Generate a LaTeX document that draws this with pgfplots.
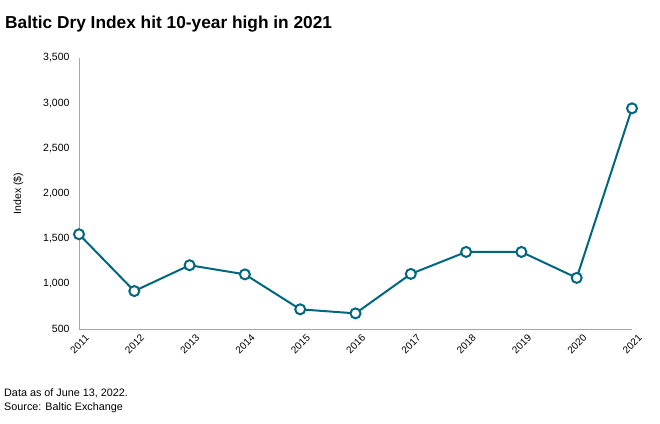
\documentclass[border=0pt]{standalone}
\usepackage{pgfplots}
\pgfplotsset{compat=1.18}
\usepackage{fontspec}
\setmainfont{Liberation Sans}
\definecolor{lineteal}{HTML}{00677F}
\definecolor{axgray}{HTML}{A6A6A6}
\begin{document}
\begin{tikzpicture}
\path (0pt,0pt) rectangle (660pt,-423pt);
\node[anchor=base west,inner sep=0pt,font=\bfseries\fontsize{17.3}{19}\selectfont] at (5pt,-28pt) {Baltic Dry Index hit 10-year high in 2021};
\begin{axis}[
  at={(79pt,-329pt)}, anchor=south west,
  scale only axis, width=553pt, height=271pt,
  xmin=2011, xmax=2021, ymin=500, ymax=3500,
  xtick={2011,...,2021}, ytick={500,1000,...,3500},
  axis x line*=bottom, axis y line*=left,
  axis line style={axgray, line width=0.8pt},
  major tick length=0pt,
  /pgf/number format/assume math mode=true,
  x tick label style={/pgf/number format/1000 sep={}, rotate=45, anchor=north east, font=\fontsize{10}{12}\selectfont, xshift=4pt, yshift=-4pt},
  y tick label style={/pgf/number format/1000 sep={,}, font=\fontsize{10.5}{12}\selectfont, xshift=-6pt},
  ylabel={Index (\$)}, ylabel style={font=\fontsize{10.5}{12}\selectfont, yshift=13pt},
  clip=false,
]
\addplot[lineteal, line width=2pt, mark=*, mark size=5pt, mark options={fill=white, draw=lineteal, line width=2pt}]
coordinates {(2011,1549) (2012,920) (2013,1206) (2014,1105) (2015,718) (2016,673) (2017,1110) (2018,1353) (2019,1353) (2020,1066) (2021,2943)};
\end{axis}
\node[anchor=base west,inner sep=0pt,font=\fontsize{10.8}{12}\selectfont] at (4pt,-396pt) {Data as of June 13, 2022.};
\node[anchor=base west,inner sep=0pt,font=\fontsize{10.8}{12}\selectfont] at (4pt,-410pt) {Source: Baltic Exchange};
\end{tikzpicture}
\end{document}
